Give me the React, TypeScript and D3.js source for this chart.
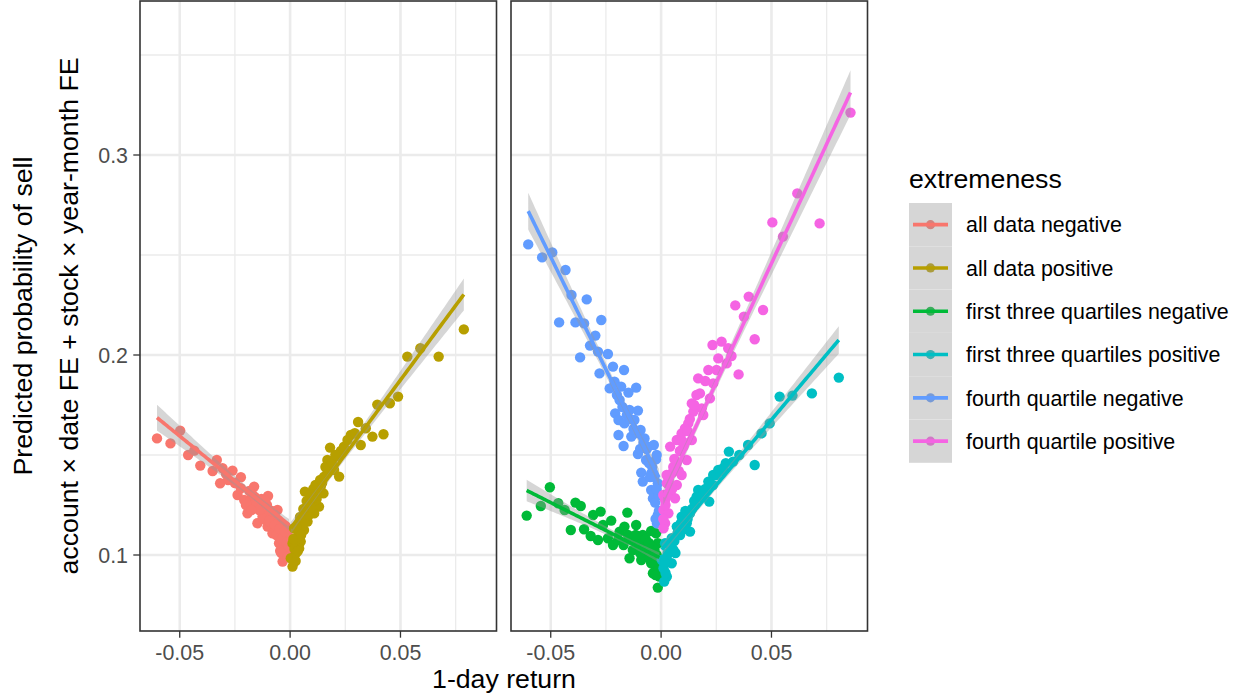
import React from "react";
import * as d3 from "d3";

// ---------- data ----------
const seriesNames = [
  "all data negative",
  "all data positive",
  "first three quartiles negative",
  "first three quartiles positive",
  "fourth quartile negative",
  "fourth quartile positive",
];
const seriesColors = ["#F8766D", "#B79F00", "#00BA38", "#00BFC4", "#619CFF", "#F564E3"];
const seriesPanel = [0, 0, 1, 1, 1, 1];

const xTicks = [-0.05, 0, 0.05];
const xTickLabels = ["-0.05", "0.00", "0.05"];
const xMinor = [-0.025, 0.025, 0.075];
const yTicks = [0.1, 0.2, 0.3];
const yTickLabels = ["0.1", "0.2", "0.3"];
const yMinor = [0.15, 0.25, 0.35];

// fitted lm lines (intercept, slope)
const fitIntercept = [0.1147, 0.113, 0.0983, 0.1023, 0.1366, 0.1266];
const fitSlope = [-0.895, 1.49, -0.558, 1.307, -2.248, 2.385];

const allNegX = [-0.0603,-0.0542,-0.0498,-0.0462,-0.0434,-0.0407,-0.0351,-0.0332,-0.0306,-0.0317,-0.0261,-0.0281,-0.0223,-0.0238,-0.0163,-0.0100,-0.0193,-0.0148,-0.0208,-0.0178,-0.0140,-0.0118,-0.0102,-0.0072,-0.0057,-0.0080,-0.0042,-0.0027,-0.0012,-0.0034,-0.0005,-0.0125,-0.0155,-0.0057,-0.0087,-0.0019,-0.0050,-0.0223,-0.0130,-0.0090,-0.0065,-0.0030,-0.0110,-0.0170,-0.0250,-0.0290,-0.0020,-0.0045,
  -0.0185,-0.0160,-0.0150,-0.0135,-0.0120,-0.0105,-0.0095,-0.0082,-0.0070,-0.0062,-0.0048,-0.0038,-0.0025,-0.0015,-0.0008,-0.0200,-0.0175,-0.0115,-0.0040,-0.0012];
const allNegY = [0.1583,0.1558,0.1622,0.1500,0.1522,0.1447,0.1420,0.1475,0.1434,0.1359,0.1422,0.1375,0.1389,0.1300,0.1342,0.1295,0.1209,0.1159,0.1275,0.1275,0.1225,0.1259,0.1142,0.1209,0.1175,0.1109,0.1092,0.1042,0.1109,0.0967,0.1009,0.1192,0.1242,0.1225,0.1159,0.1142,0.1059,0.1334,0.1280,0.1200,0.1130,0.1150,0.1210,0.1300,0.1360,0.1405,0.1050,0.1020,
  0.1320,0.1290,0.1260,0.1230,0.1180,0.1250,0.1170,0.1220,0.1150,0.1100,0.1130,0.1080,0.1120,0.1060,0.1040,0.1250,0.1225,0.1275,0.1010,0.0990];

const allPosX = [0.0787,0.0531,0.0590,0.0673,0.0489,0.0395,0.0452,0.0308,0.0423,0.0373,0.0275,0.0293,0.0343,0.0181,0.0244,0.0320,0.0169,0.0214,0.0176,0.0222,0.0154,0.0136,0.0199,0.0067,0.0151,0.0101,0.0131,0.0071,0.0109,0.0048,0.0079,0.0018,0.0063,0.0033,0.0011,0.0048,0.0026,0.0011,0.0003,0.0041,0.0139,0.0260,0.0090,0.0169,0.0040,0.0085,0.0055,0.0120,0.0020,
  0.0015,0.0030,0.0045,0.0060,0.0075,0.0090,0.0105,0.0115,0.0035,0.0025,0.0050,0.0095,0.0110,0.0145,0.0160,0.0190,0.0230,0.0205];
const allPosY = [0.2128,0.1992,0.2034,0.1992,0.1792,0.1752,0.1759,0.1665,0.1604,0.1592,0.1600,0.1609,0.1634,0.1537,0.1542,0.1550,0.1475,0.1492,0.1442,0.1392,0.1392,0.1375,0.1425,0.1317,0.1308,0.1292,0.1242,0.1225,0.1208,0.1175,0.1167,0.1134,0.1125,0.1092,0.1058,0.1067,0.1008,0.0942,0.0984,0.1033,0.1342,0.1575,0.1258,0.1408,0.1120,0.1200,0.1150,0.1280,0.1030,
  0.1080,0.1140,0.1190,0.1230,0.1270,0.1300,0.1330,0.1350,0.1020,0.0970,0.1100,0.1240,0.1290,0.1360,0.1440,0.1460,0.1520,0.1500];

const q3NegX = [-0.0609,-0.0545,-0.0504,-0.0466,-0.0437,-0.0409,-0.0388,-0.0364,-0.0349,-0.0319,-0.0308,-0.0274,-0.0263,-0.0226,-0.0241,-0.0218,-0.0188,-0.0153,-0.0166,-0.0135,-0.0113,-0.0143,-0.0105,-0.0083,-0.0060,-0.0075,-0.0045,-0.0023,-0.0037,-0.0015,-0.0008,-0.0030,-0.0053,-0.0090,-0.0128,-0.0015,-0.0008,-0.0195,-0.0286,
  -0.0100,-0.0085,-0.0070,-0.0062,-0.0050,-0.0040,-0.0030,-0.0020,-0.0012,-0.0055,-0.0095,-0.0115,-0.0150,-0.0170,-0.0025,-0.0045];
const q3NegY = [0.1197,0.1245,0.1339,0.1259,0.1225,0.1125,0.1262,0.1245,0.1129,0.1095,0.1200,0.1217,0.1150,0.1172,0.1084,0.1050,0.1117,0.1212,0.1142,0.1075,0.1150,0.0984,0.1042,0.1100,0.1050,0.0992,0.0959,0.1109,0.0909,0.0837,0.0975,0.1025,0.1009,0.0975,0.1025,0.1059,0.0892,0.1075,0.1075,
  0.1060,0.1020,0.1080,0.1000,0.0980,0.1040,0.0950,0.1000,0.0930,0.1060,0.1010,0.1100,0.1100,0.1050,0.0900,0.1120];

const q3PosX = [0.0805,0.0683,0.0595,0.0537,0.0492,0.0455,0.0394,0.0424,0.0307,0.0354,0.0326,0.0293,0.0259,0.0236,0.0214,0.0168,0.0218,0.0191,0.0153,0.0131,0.0116,0.0093,0.0071,0.0131,0.0048,0.0086,0.0018,0.0056,0.0026,0.0048,0.0011,0.0026,0.0014,0.0003,0.0101,0.0161,0.0281,
  0.0015,0.0030,0.0040,0.0060,0.0075,0.0090,0.0105,0.0120,0.0140,0.0150,0.0180,0.0200,0.0235,0.0250,0.0270,0.0020,0.0065,0.0110];
const q3PosY = [0.1887,0.1808,0.1797,0.1792,0.1658,0.1608,0.1550,0.1450,0.1517,0.1500,0.1467,0.1459,0.1425,0.1400,0.1367,0.1325,0.1267,0.1309,0.1250,0.1209,0.1159,0.1192,0.1142,0.1117,0.1084,0.1100,0.1059,0.1025,0.0992,0.0959,0.0934,0.0892,0.0867,0.0975,0.1142,0.1292,0.1434,
  0.0960,0.1010,0.1050,0.1070,0.1110,0.1160,0.1130,0.1180,0.1230,0.1270,0.1290,0.1330,0.1350,0.1400,0.1420,0.0910,0.1010,0.1220];

const q4NegX = [-0.0602,-0.0539,-0.0493,-0.0433,-0.0406,-0.0337,-0.0462,-0.0388,-0.0349,-0.0271,-0.0298,-0.0322,-0.0367,-0.0286,-0.0241,-0.0218,-0.0168,-0.0279,-0.0211,-0.0233,-0.0181,-0.0113,-0.0148,-0.0188,-0.0143,-0.0105,-0.0208,-0.0193,-0.0166,-0.0121,-0.0093,-0.0193,-0.0135,-0.0075,-0.0170,-0.0060,-0.0033,-0.0105,-0.0068,-0.0023,-0.0090,-0.0045,-0.0083,-0.0015,-0.0045,-0.0037,-0.0027,-0.0015,-0.0019,
  -0.0010,-0.0020,-0.0030,-0.0040,-0.0055,-0.0065,-0.0080,-0.0095,-0.0110,-0.0125,-0.0140,-0.0155,-0.0175,-0.0200,-0.0010,-0.0025,-0.0050,-0.0020];
const q4NegY = [0.2553,0.2488,0.2513,0.2425,0.2300,0.2278,0.2163,0.2163,0.2158,0.2175,0.2097,0.2047,0.1988,0.2017,0.2005,0.1942,0.1925,0.1908,0.1867,0.1833,0.1842,0.1837,0.1812,0.1775,0.1725,0.1722,0.1708,0.1675,0.1658,0.1675,0.1625,0.1600,0.1592,0.1583,0.1545,0.1542,0.1550,0.1505,0.1475,0.1478,0.1412,0.1408,0.1367,0.1358,0.1325,0.1283,0.1262,0.1200,0.1158,
  0.1300,0.1330,0.1390,0.1440,0.1460,0.1530,0.1560,0.1530,0.1610,0.1630,0.1680,0.1700,0.1740,0.1800,0.1220,0.1180,0.1390,0.1500];

const q4PosX = [0.0858,0.0617,0.0504,0.0718,0.0552,0.0397,0.0336,0.0462,0.0375,0.0424,0.0233,0.0274,0.0319,0.0259,0.0297,0.0351,0.0214,0.0168,0.0236,0.0176,0.0221,0.0139,0.0184,0.0146,0.0191,0.0123,0.0108,0.0139,0.0071,0.0041,0.0101,0.0116,0.0071,0.0048,0.0093,0.0026,0.0071,0.0041,0.0018,0.0063,0.0011,0.0033,0.0018,0.0304,0.0251,0.0093,0.0011,
  0.0010,0.0020,0.0030,0.0035,0.0050,0.0055,0.0060,0.0080,0.0085,0.0095,0.0105,0.0120,0.0130,0.0150,0.0160,0.0200,0.0010,0.0025];
const q4PosY = [0.3212,0.2808,0.2663,0.2658,0.2592,0.2292,0.2248,0.2225,0.2192,0.2079,0.2050,0.2067,0.1995,0.1983,0.1958,0.1903,0.1925,0.1883,0.1858,0.1808,0.1783,0.1758,0.1733,0.1717,0.1700,0.1658,0.1633,0.1575,0.1575,0.1542,0.1542,0.1475,0.1459,0.1408,0.1400,0.1359,0.1350,0.1309,0.1275,0.1284,0.1225,0.1209,0.1159,0.2034,0.1925,0.1608,0.1134,
  0.1180,0.1250,0.1300,0.1380,0.1330,0.1440,0.1480,0.1420,0.1520,0.1570,0.1560,0.1620,0.1680,0.1750,0.1800,0.1870,0.1300,0.1400];

const seriesX = [allNegX, allPosX, q3NegX, q3PosX, q4NegX, q4PosX];
const seriesY = [allNegY, allPosY, q3NegY, q3PosY, q4NegY, q4PosY];

// ---------- layout ----------
const W = 1245;
const H = 699;
const panelLeft = [140, 511];
const panelW = 356.5;
const panelTop = 1;
const panelBottom = 631;
const FONT = "'Liberation Sans', Arial, Helvetica, sans-serif";

const x = d3.scaleLinear().domain([-0.068, 0.0935]).range([0, panelW]);
const y = d3.scaleLinear().domain([0.062, 0.377]).range([panelBottom, panelTop]);

function band(i: number) {
  const xs = seriesX[i];
  const ys = seriesY[i];
  const n = xs.length;
  const a = fitIntercept[i];
  const b = fitSlope[i];
  const xbar = d3.mean(xs) as number;
  const sxx = d3.sum(xs, (v) => (v - xbar) * (v - xbar));
  const sse = d3.sum(xs.map((v, k) => {
    const r = ys[k] - (a + b * v);
    return r * r;
  }));
  const s = Math.sqrt(sse / (n - 2));
  const t = 1.96 + 2.4 / (n - 2);
  const [lo, hi] = d3.extent(xs) as [number, number];
  const grid = d3.range(0, 81).map((k) => lo + ((hi - lo) * k) / 80);
  return grid.map((g) => {
    const fit = a + b * g;
    const se = s * Math.sqrt(1 / n + ((g - xbar) * (g - xbar)) / sxx);
    return { x: g, fit, lo: fit - t * se, hi: fit + t * se };
  });
}

export default function App() {
  const area = d3
    .area<{ x: number; lo: number; hi: number }>()
    .x((d) => x(d.x))
    .y0((d) => y(d.lo))
    .y1((d) => y(d.hi));
  const line = d3
    .line<{ x: number; fit: number }>()
    .x((d) => x(d.x))
    .y((d) => y(d.fit));

  const legendTop = 203;
  const keyH = 43.3;

  return (
    <svg
      width={W}
      height={H}
      style={{ position: "absolute", left: 0, top: 0, background: "#fff" }}
      fontFamily={FONT}
    >
      <rect x={0} y={0} width={W} height={H} fill="#fff" />
      {panelLeft.map((pl, p) => {
        const idx = seriesNames.map((_, i) => i).filter((i) => seriesPanel[i] === p);
        return (
          <g key={p} transform={`translate(${pl},0)`}>
            <rect x={0} y={panelTop} width={panelW} height={panelBottom - panelTop} fill="#fff" />
            {xMinor.filter((v) => x(v) > 0 && x(v) < panelW).map((v) => (
              <line key={"xm" + v} x1={x(v)} x2={x(v)} y1={panelTop} y2={panelBottom} stroke="#EBEBEB" strokeWidth={1.3} />
            ))}
            {yMinor.filter((v) => y(v) > panelTop && y(v) < panelBottom).map((v) => (
              <line key={"ym" + v} x1={0} x2={panelW} y1={y(v)} y2={y(v)} stroke="#EBEBEB" strokeWidth={1.3} />
            ))}
            {xTicks.map((v) => (
              <line key={"xM" + v} x1={x(v)} x2={x(v)} y1={panelTop} y2={panelBottom} stroke="#EBEBEB" strokeWidth={2.6} />
            ))}
            {yTicks.map((v) => (
              <line key={"yM" + v} x1={0} x2={panelW} y1={y(v)} y2={y(v)} stroke="#EBEBEB" strokeWidth={2.6} />
            ))}
            {idx.map((i) => (
              <g key={"pts" + i}>
                {seriesX[i].map((vx, k) => (
                  <circle key={k} cx={x(vx)} cy={y(seriesY[i][k])} r={5.2} fill={seriesColors[i]} />
                ))}
              </g>
            ))}
            {idx.map((i) => {
              const bd = band(i);
              return (
                <g key={"sm" + i}>
                  <path d={area(bd) || ""} fill="#999999" fillOpacity={0.4} />
                  <path d={line(bd) || ""} fill="none" stroke={seriesColors[i]} strokeWidth={3.6} />
                </g>
              );
            })}
            <rect x={0} y={panelTop} width={panelW} height={panelBottom - panelTop} fill="none" stroke="#333333" strokeWidth={1.6} />
            {xTicks.map((v, k) => (
              <g key={"xt" + v}>
                <line x1={x(v)} x2={x(v)} y1={panelBottom} y2={panelBottom + 6.7} stroke="#333333" strokeWidth={1.3} />
                <text x={x(v)} y={660} textAnchor="middle" fontSize={21.4} fill="#4D4D4D">
                  {xTickLabels[k]}
                </text>
              </g>
            ))}
          </g>
        );
      })}
      {/* y axis */}
      {yTicks.map((v, k) => (
        <g key={"yt" + v}>
          <line x1={panelLeft[0] - 6.7} x2={panelLeft[0]} y1={y(v)} y2={y(v)} stroke="#333333" strokeWidth={1.3} />
          <text x={128} y={y(v)} dy="0.36em" textAnchor="end" fontSize={21.4} fill="#4D4D4D">
            {yTickLabels[k]}
          </text>
        </g>
      ))}
      <text transform={`translate(31.5,316) rotate(-90)`} textAnchor="middle" fontSize={26.7} fill="#000">
        Predicted probability of sell
      </text>
      <text transform={`translate(77.5,316) rotate(-90)`} textAnchor="middle" fontSize={26.7} fill="#000">
        account × date FE + stock × year-month FE
      </text>
      <text x={504} y={688} textAnchor="middle" fontSize={26.7} fill="#000">
        1-day return
      </text>
      {/* legend */}
      <text x={909} y={188} fontSize={26.7} fill="#000">
        extremeness
      </text>
      {seriesNames.map((name, i) => {
        const cy = legendTop + keyH * i + keyH / 2;
        return (
          <g key={"lg" + i}>
            <rect x={909} y={legendTop + keyH * i} width={43} height={keyH} fill="#fff" />
            <circle cx={930.5} cy={cy} r={4.6} fill={seriesColors[i]} />
            <rect x={909} y={legendTop + keyH * i} width={43} height={keyH} fill="#999999" fillOpacity={0.4} />
            <line x1={913} x2={948} y1={cy} y2={cy} stroke={seriesColors[i]} strokeWidth={3.6} />
            <text x={966} y={cy} dy="0.36em" fontSize={21.4} fill="#000">
              {name}
            </text>
          </g>
        );
      })}
    </svg>
  );
}
